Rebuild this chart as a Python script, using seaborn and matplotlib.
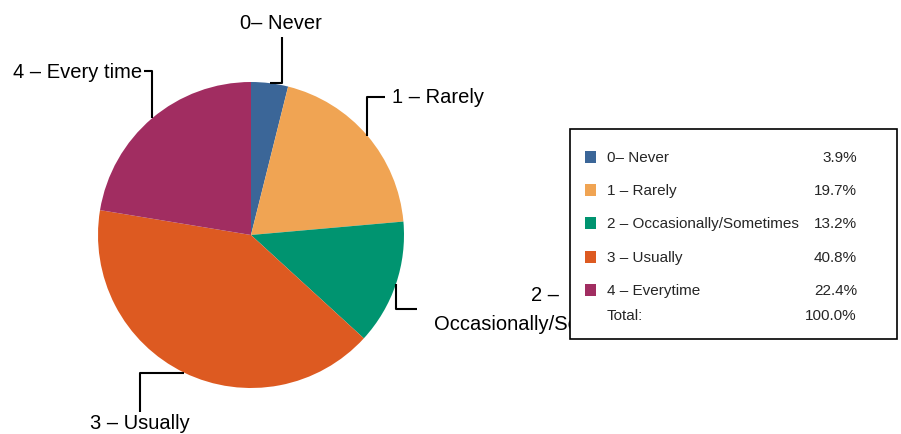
import numpy as np
import matplotlib
matplotlib.use("Agg")
import matplotlib.pyplot as plt
import seaborn as sns
from matplotlib.patches import Rectangle

# data
slice_labels = ["0– Never", "1 – Rarely", "2 –\nOccasionally/Sometimes", "3 – Usually", "4 – Every time"]
legend_names = ["0– Never", "1 – Rarely", "2 – Occasionally/Sometimes", "3 – Usually", "4 – Everytime"]
percent = [3.9, 19.7, 13.2, 40.8, 22.4]
total_label = "Total:"
total_value = 100.0

colors = ["#3b6698", "#f0a453", "#009470", "#dd5a21", "#a12d61"]

# leader line styling (pixels): first leg direction, leg lengths, label offset, alignment
leaders = [
    ("h", 12, 46, (-1, 15), "center"),
    ("v", 39, 18, (7, 0), "left"),
    ("v", -25, 21, (128, 0), "center"),
    ("h", -44, -39, (0, -11), "center"),
    ("v", 47, -8, (-2, 0), "right"),
]

W, H = 901, 435
CX, CY, R = 251, 199, 153

sns.set_theme(style="white")
plt.rcParams["font.family"] = ["Liberation Sans", "DejaVu Sans"]

fig = plt.figure(figsize=(W / 100, H / 100), dpi=100)
ax = fig.add_axes([0, 0, 1, 1])

wedges, _ = ax.pie(percent, colors=colors, startangle=90, counterclock=False,
                   center=(CX, CY), radius=R, wedgeprops=dict(linewidth=0))
ax.set_xlim(0, W)
ax.set_ylim(0, H)
ax.axis("off")

for w, lab, (first, d1, d2, (tx, ty), ha) in zip(wedges, slice_labels, leaders):
    mid = np.deg2rad((w.theta1 + w.theta2) / 2)
    x0, y0 = CX + R * np.cos(mid), CY + R * np.sin(mid)
    if first == "h":
        xs = [x0, x0 + d1, x0 + d1]
        ys = [y0, y0, y0 + d2]
    else:
        xs = [x0, x0, x0 + d2]
        ys = [y0, y0 + d1, y0 + d1]
    ax.plot(xs, ys, color="black", lw=1.5, solid_capstyle="butt", zorder=3)
    ax.text(xs[-1] + tx, ys[-1] + ty, lab, ha=ha, va="center", fontsize=14.5,
            linespacing=1.7, multialignment="center", color="black", zorder=3)

# legend table
box_x0, box_x1 = 570, 897
box_top, box_bot = H - 130, H - 340
ax.add_patch(Rectangle((box_x0, box_bot), box_x1 - box_x0, box_top - box_bot,
                       facecolor="white", edgecolor="black", lw=1.2, zorder=5))
row_top, row_step = H - 158, 33.2
for i, (name, val, c) in enumerate(zip(legend_names, percent, colors)):
    y = row_top - i * row_step
    ax.add_patch(Rectangle((585, y - 6), 11, 12, facecolor=c, edgecolor="none", zorder=6))
    ax.text(607, y, name, ha="left", va="center", fontsize=11, zorder=6)
    ax.text(857, y, f"{val:.1f}%", ha="right", va="center", fontsize=11, zorder=6)
y_tot = H - 316
ax.text(607, y_tot, total_label, ha="left", va="center", fontsize=11, zorder=6)
ax.text(857, y_tot, f"{total_value:.1f}%", ha="right", va="center", fontsize=11, zorder=6)

fig.savefig("out.png", dpi=100)
plt.close(fig)
